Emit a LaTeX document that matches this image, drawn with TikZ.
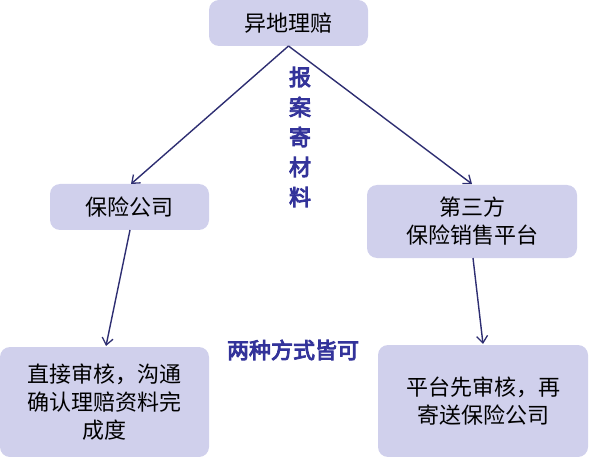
\documentclass[tikz,border=0pt]{standalone}
\usepackage{fontspec}
\newfontfamily\cjk{Noto Sans CJK SC}
\newfontfamily\cjkb{Noto Sans CJK SC}[FakeBold=4]
\usetikzlibrary{arrows.meta}
\definecolor{boxfill}{HTML}{D0D0EC}
\definecolor{arrowc}{HTML}{2E2E72}
\definecolor{labelc}{HTML}{33339A}
\begin{document}
\begin{tikzpicture}[x=1pt,y=-1pt,
  box/.style={fill=boxfill,rounded corners=10pt,draw=none,align=center,inner sep=0pt,
    font={\cjk\fontsize{22}{28}\selectfont}},
  conn/.style={draw=arrowc,line width=1.4pt,-{Straight Barb[length=7pt,width=11pt,line width=1.3pt]}},
  lbl/.style={text=labelc,font={\cjkb\fontsize{22}{30}\selectfont},align=center,inner sep=0pt}]
\useasboundingbox (0,0) rectangle (589,457);
\node[box,minimum width=159pt,minimum height=46pt] (top) at (288.5,23) {异地理赔};
\node[box,minimum width=159pt,minimum height=46pt] (ins) at (129.5,207) {保险公司};
\node[box,minimum width=210pt,minimum height=73pt] (plat) at (472,221.5) {第三方\\保险销售平台};
\node[box,minimum width=209pt,minimum height=110pt] (dir) at (104.5,402) {直接审核，沟通\\确认理赔资料完\\成度};
\node[box,minimum width=210pt,minimum height=112pt] (pre) at (483,401) {平台先审核，再\\寄送保险公司};
\coordinate (apex) at (288.5,46);
\coordinate (insT) at (131,184);
\coordinate (platT) at (472,184);
\coordinate (insB) at (130,230);
\coordinate (dirT) at (106,346);
\coordinate (platB) at (473,258);
\coordinate (preT) at (483,344);
\draw[conn] (apex) -- (insT);
\draw[conn] (apex) -- (platT);
\draw[conn] (insB) -- (dirT);
\draw[conn] (platB) -- (preT);
\node[lbl] (report) at (300,137) {报\\案\\寄\\材\\料};
\node[lbl] (both) at (293,350) {两种方式皆可};
\end{tikzpicture}
\end{document}
